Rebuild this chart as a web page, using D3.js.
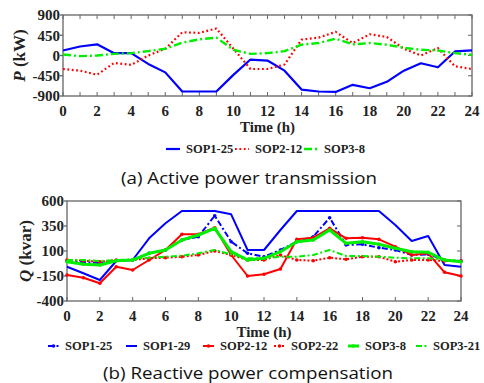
<!DOCTYPE html>
<html>
<head>
<meta charset="utf-8">
<script src="https://cdn.jsdelivr.net/npm/d3@7"></script>
<style>
  body { margin: 0; background: #fff; }
  text { font-family: "Liberation Serif", "Times New Roman", serif; font-weight: bold; fill: #222; }
  .cap { font-family: "Open Sans", "Noto Sans", sans-serif; font-weight: normal; fill: #111; }
</style>
</head>
<body>
<svg id="chart" width="484" height="383"></svg>
<script>
// hours 0..24
var hours = d3.range(0, 25);

// (a) active power, kW
var p_sop1_25 = [112, 200, 248, 52, 52, -187, -375, -800, -800, -800, -430, -90, -112, -337, -757, -800, -810, -652, -727, -585, -337, -172, -262, 90, 112];
var p_sop2_12 = [-300, -337, -427, -165, -210, 0, 150, 517, 502, 600, 150, -300, -300, -200, 352, 397, 525, 277, 472, 412, 150, 0, 165, -240, -300];
var p_sop3_8  = [22, -15, 0, 37, 52, 97, 150, 285, 360, 397, 127, 37, 52, 97, 240, 277, 375, 247, 277, 240, 172, 127, 112, 52, 15];

// (b) reactive power, kvar
var q_sop1_25 = [0, -10, -20, 5, 10, 77, 110, 210, 243, 453, 193, 77, 43, 110, 193, 243, 433, 160, 167, 133, 110, 60, 67, 10, 0];
var q_sop1_29 = [-57, -123, -190, 0, 10, 227, 377, 500, 500, 500, 467, 110, 110, 310, 500, 500, 500, 500, 500, 500, 360, 200, 250, -40, -57];
var q_sop2_12 = [-140, -167, -223, -57, -90, 10, 110, 267, 267, 333, 60, -150, -133, -80, 217, 233, 327, 227, 233, 217, 143, 60, 77, -113, -150];
var q_sop2_22 = [10, 3, -7, 10, 10, 27, 33, 43, 60, 100, 60, 10, 10, 60, 10, 3, 33, 17, 43, 43, -7, 10, 10, 0, 0];
var q_sop3_8  = [-7, -33, -40, 3, 10, 77, 110, 210, 260, 327, 93, 10, 27, 93, 193, 210, 310, 177, 193, 167, 127, 93, 87, 10, -7];
var q_sop3_21 = [10, 10, 0, 10, 17, 33, 43, 53, 77, 110, 67, 27, 27, 43, 43, 60, 110, 50, 50, 43, 33, 27, 27, 10, 0];

var pTicks = [-900, -450, 0, 450, 900];
var qTicks = [-400, -150, 100, 350, 600];
var xLabels = d3.range(0, 25, 2);

var svg = d3.select('#chart');

function panel(opt) {
    var x = d3.scaleLinear().domain([0, 24]).range([opt.x0, opt.x1]);
    var y = d3.scaleLinear().domain(opt.ydomain).range([opt.y1, opt.y0]);
    var g = svg.append('g');
    var axisColor = '#666';

    // frame
    g.append('rect')
        .attr('x', opt.x0).attr('y', opt.y0)
        .attr('width', opt.x1 - opt.x0).attr('height', opt.y1 - opt.y0)
        .attr('fill', 'none').attr('stroke', axisColor).attr('stroke-width', 1.3);

    // x ticks (inside)
    opt.xticks.forEach(t => {
        g.append('line').attr('x1', x(t)).attr('x2', x(t))
            .attr('y1', opt.y1).attr('y2', opt.y1 - 4)
            .attr('stroke', axisColor).attr('stroke-width', 1);
        if (opt.topTicks) {
            g.append('line').attr('x1', x(t)).attr('x2', x(t))
                .attr('y1', opt.y0).attr('y2', opt.y0 + 4)
                .attr('stroke', axisColor).attr('stroke-width', 1);
        }
    });
    g.selectAll('.xl').data(xLabels).enter().append('text')
        .attr('x', d => x(d)).attr('y', opt.y1 + 20)
        .attr('text-anchor', 'middle').style('font-size', '15px')
        .text(d => d);

    // y ticks
    opt.yticks.forEach(t => {
        g.append('line').attr('x1', opt.x0 - 3).attr('x2', opt.x0)
            .attr('y1', y(t)).attr('y2', y(t))
            .attr('stroke', axisColor).attr('stroke-width', 1.3);
        g.append('line').attr('x1', opt.x1).attr('x2', opt.x1 - 4)
            .attr('y1', y(t)).attr('y2', y(t))
            .attr('stroke', axisColor).attr('stroke-width', 1);
    });
    g.selectAll('.yl').data(opt.yticks).enter().append('text')
        .attr('x', opt.x0 - 3).attr('y', d => y(d)).attr('dy', '0.35em')
        .attr('text-anchor', 'end').style('font-size', '15px')
        .text(d => d);

    // y title
    var yt = g.append('text')
        .attr('transform', 'translate(' + opt.ytx + ',' + ((opt.y0 + opt.y1) / 2) + ') rotate(-90)')
        .attr('text-anchor', 'middle').attr('dy', '0.35em').style('font-size', '17px');
    yt.append('tspan').style('font-style', 'italic').text(opt.ysym);
    yt.append('tspan').text(' ' + opt.yunit);

    // x title
    g.append('text').attr('x', (opt.x0 + opt.x1) / 2).attr('y', opt.y1 + 36)
        .attr('text-anchor', 'middle').style('font-size', '15px').text('Time (h)');

    var line = d3.line().x((d, i) => x(hours[i])).y(d => y(d));

    opt.series.forEach(s => {
        g.append('path').datum(s.values)
            .attr('d', line).attr('fill', 'none')
            .attr('stroke', s.color).attr('stroke-width', s.width)
            .attr('stroke-dasharray', s.dash || null)
            .attr('stroke-linejoin', 'round');
        if (s.marker) {
            g.selectAll(null).data(s.values).enter().append('circle')
                .attr('cx', (d, i) => x(hours[i])).attr('cy', d => y(d))
                .attr('r', 1.8).attr('fill', s.color);
        }
    });

    // legend
    var lg = g.append('g');
    opt.series.forEach((s, i) => {
        var lx = opt.legX[i];
        lg.append('line').attr('x1', lx).attr('x2', lx + opt.legLen)
            .attr('y1', opt.legY - 4).attr('y2', opt.legY - 4)
            .attr('stroke', s.color).attr('stroke-width', s.width)
            .attr('stroke-dasharray', s.dash || null);
        if (s.marker) {
            lg.append('circle').attr('cx', lx + opt.legLen / 2).attr('cy', opt.legY - 4)
                .attr('r', 1.8).attr('fill', s.color);
        }
        lg.append('text').attr('x', lx + opt.legLen + 6).attr('y', opt.legY)
            .style('font-size', '12.5px').text(s.name);
    });

    svg.append('text').attr('class', 'cap')
        .attr('x', opt.capX).attr('y', opt.capY)
        .attr('text-anchor', 'middle').style('font-size', '17px')
        .attr('textLength', opt.capW).attr('lengthAdjust', 'spacingAndGlyphs')
        .text(opt.caption);
}

panel({
    x0: 63, x1: 472, y0: 15, y1: 96,
    ydomain: [-900, 900], yticks: pTicks, xticks: hours, topTicks: true,
    ytx: 19, ysym: 'P', yunit: '(kW)',
    series: [
        { name: 'SOP1-25', values: p_sop1_25, color: '#0000ff', width: 2.2 },
        { name: 'SOP2-12', values: p_sop2_12, color: '#ff0000', width: 2.2, dash: '1.8,2.6' },
        { name: 'SOP3-8', values: p_sop3_8, color: '#00ee00', width: 2.4, dash: '8,3,2,3' }
    ],
    legX: [166, 235, 304], legLen: 14, legY: 153,
    caption: '(a) Active power transmission', capX: 249, capY: 184, capW: 256
});

panel({
    x0: 67, x1: 461, y0: 201, y1: 301,
    ydomain: [-400, 600], yticks: qTicks, xticks: xLabels, topTicks: false,
    ytx: 25, ysym: 'Q', yunit: '(kvar)',
    series: [
        { name: 'SOP1-25', values: q_sop1_25, color: '#0000ff', width: 2, dash: '6,2.5,2,2.5', marker: true },
        { name: 'SOP1-29', values: q_sop1_29, color: '#0000ff', width: 2 },
        { name: 'SOP2-12', values: q_sop2_12, color: '#ff0000', width: 2, marker: true },
        { name: 'SOP2-22', values: q_sop2_22, color: '#ff0000', width: 2, dash: '2,2', marker: true },
        { name: 'SOP3-8', values: q_sop3_8, color: '#00ee00', width: 3, marker: true },
        { name: 'SOP3-21', values: q_sop3_21, color: '#00ee00', width: 2, dash: '6,2.5,2,2.5' }
    ],
    legX: [48, 126, 203, 274, 348, 416], legLen: 11, legY: 350,
    caption: '(b) Reactive power compensation', capX: 248, capY: 379, capW: 290
});
</script>
</body>
</html>
